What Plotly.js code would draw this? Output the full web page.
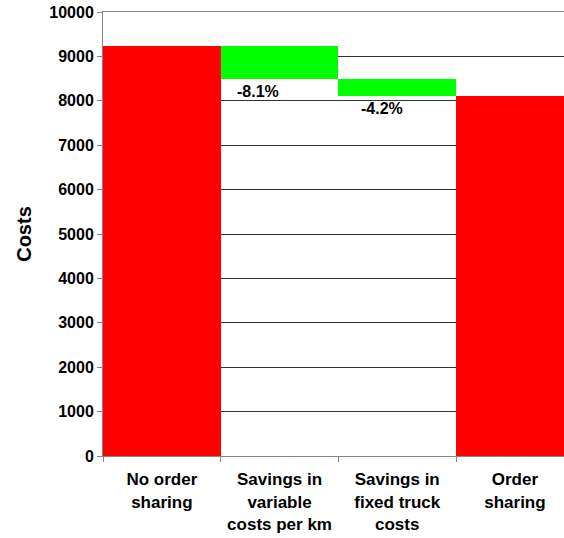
<!DOCTYPE html>
<html>
<head>
<meta charset="utf-8">
<script src="https://cdn.plot.ly/plotly-3.0.1.min.js"></script>
<style>html,body{margin:0;padding:0;background:#fff;}#chart{width:564px;height:538px;}</style>
</head>
<body>
<div id="chart"></div>
<script>
// Data
const categories = ["No order<br>sharing", "Savings in<br>variable<br>costs per km", "Savings in<br>fixed truck<br>costs", "Order<br>sharing"];
const startCost = 9240;          // No order sharing
const savings = [750, 390];      // decrease per saving step
const savingLabels = ["-8.1%", "-4.2%"];
const endCost = 8100;            // Order sharing
const yTicks = [0, 1000, 2000, 3000, 4000, 5000, 6000, 7000, 8000, 9000, 10000];
const yTickText = ["0", "1000", "2000", "3000", "4000", "5000", "6000", "7000", "8000", "9000", "10000"];

// Floating bars for savings (waterfall)
const savingBases = [];
let level = startCost;
for (let i = 0; i < savings.length; i++) {
  level -= savings[i];
  savingBases.push(level);
}

const FAM = "Liberation Sans, Arial, sans-serif";
const mkFont = (s) => ({family: FAM, size: s, color: "#000", weight: 700});

const traces = [
  {
    type: "bar",
    x: [categories[0], categories[3]],
    y: [startCost, endCost],
    width: 1,
    marker: {color: "#FF0000", line: {width: 0}},
    hoverinfo: "skip"
  },
  {
    type: "bar",
    x: [categories[1], categories[2]],
    y: savings,
    base: savingBases,
    width: 1,
    marker: {color: "#00FF00", line: {width: 0}},
    hoverinfo: "skip"
  }
];

const xshifts = [-22, -15];
const annotations = savingLabels.map((t, i) => ({
  x: categories[i + 1], y: savingBases[i], xref: "x", yref: "y",
  text: t, showarrow: false, yanchor: "top", yshift: -2, xshift: xshifts[i],
  font: mkFont(16)
}));

const layout = {
  width: 564, height: 538,
  margin: {l: 103, r: 0, t: 12, b: 82, pad: 0},
  paper_bgcolor: "#fff", plot_bgcolor: "#fff",
  showlegend: false,
  barmode: "overlay",
  bargap: 0,
  font: mkFont(16),
  xaxis: {
    type: "category",
    categoryorder: "array", categoryarray: categories,
    range: [-0.5, 3.417],
    showgrid: false, zeroline: false,
    showline: true, linecolor: "#888", linewidth: 1, mirror: true,
    ticks: "outside", tickson: "boundaries", ticklen: 5, tickcolor: "#888",
    ticklabelstandoff: 8,
    tickfont: mkFont(17), automargin: false
  },
  yaxis: {
    range: [0, 10000],
    tickmode: "array", tickvals: yTicks, ticktext: yTickText,
    showgrid: true, gridcolor: "#333", gridwidth: 1,
    zeroline: false,
    showline: true, linecolor: "#888", linewidth: 1,
    ticks: "outside", ticklen: 5, tickcolor: "#888",
    tickfont: mkFont(16), automargin: false,
    title: {text: "Costs", font: mkFont(20), standoff: 12}
  },
  annotations: annotations
};

Plotly.newPlot("chart", traces, layout, {staticPlot: true, displayModeBar: false});
</script>
</body>
</html>
